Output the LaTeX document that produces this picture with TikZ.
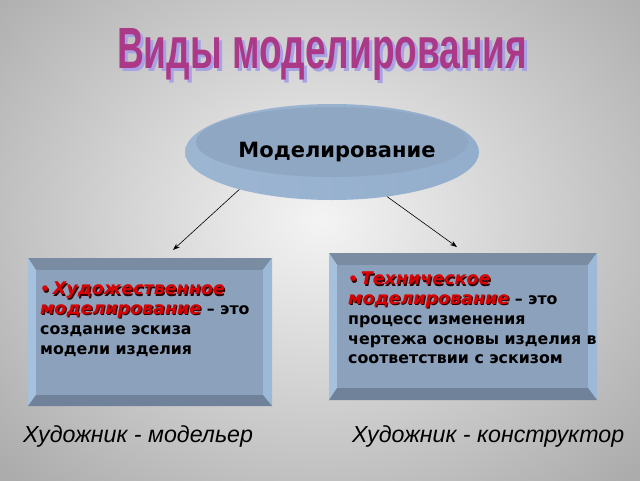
\documentclass[tikz,border=0pt]{standalone}
\usepackage{fontspec}
\setmainfont{DejaVu Sans}
\newfontfamily\arialf{Liberation Sans}
\usetikzlibrary{arrows.meta,shapes.geometric}
\definecolor{bgin}{HTML}{F4F4F4}
\definecolor{bgout}{HTML}{ACACAC}
\definecolor{titlec}{RGB}{172,56,136}
\definecolor{tshadow}{RGB}{168,162,228}
\definecolor{sideL}{HTML}{9CB6D2}
\definecolor{sideM}{HTML}{7F99B8}
\definecolor{sideR}{HTML}{93AECC}
\definecolor{diskface}{HTML}{8FA7C2}
\definecolor{bevtop}{HTML}{7A8CA2}
\definecolor{bevleft}{HTML}{A6C1DD}
\definecolor{bevright}{HTML}{9DB9D8}
\definecolor{bevbot}{HTML}{6F8299}
\definecolor{boxface}{HTML}{8CA1BB}
\definecolor{redtx}{HTML}{D80000}
\definecolor{redsh}{HTML}{300000}
\newcommand{\redw}[1]{\makebox[0pt][l]{\hspace{1.2pt}\raisebox{-1.2pt}{\color{redsh}#1}}{\color{redtx}#1}}
\newcommand{\redi}[1]{{\fontsize{17.5}{19.7}\selectfont\itshape\redw{#1}}}
\newcommand{\titletext}{\resizebox{410pt}{40pt}{\arialf\bfseries Виды моделирования}}
\newcommand{\bevelbox}[8]{%
 \fill[bevtop] (#1,#2) -- (#3,#2) -- (#7,#6) -- (#5,#6) -- cycle;
 \fill[bevleft] (#1,#2) -- (#5,#6) -- (#5,#8) -- (#1,#4) -- cycle;
 \fill[bevright] (#3,#2) -- (#3,#4) -- (#7,#8) -- (#7,#6) -- cycle;
 \fill[bevbot] (#1,#4) -- (#3,#4) -- (#7,#8) -- (#5,#8) -- cycle;
 \fill[boxface] (#5,#6) rectangle (#7,#8);}
\begin{document}
\begin{tikzpicture}[x=1pt,y=-1pt,
  arr/.style={draw=black, line width=0.6pt, -{Stealth[length=7pt,width=5pt]}},
  boxtxt/.style={anchor=north west, inner sep=0pt, align=left, font=\bfseries\fontsize{15.8}{19.7}\selectfont},
  sig/.style={font=\arialf\itshape\fontsize{23.2}{24}\selectfont, inner sep=0pt, anchor=base west}
]
\useasboundingbox (0,0) rectangle (640,480);
\begin{scope}
\clip (0,0) rectangle (640,480);
\shade[inner color=bgin, outer color=bgout] (-120,-140) rectangle (760,580);
\end{scope}
% title
\node[anchor=base west, inner sep=0pt, text=tshadow] (titlesh) at (120,71) {\titletext};
\node[anchor=base west, inner sep=0pt, text=titlec] (title) at (117,68) {\titletext};
% disk
\node[ellipse, left color=sideL, middle color=sideM, right color=sideR, minimum width=294pt, minimum height=96pt, inner sep=0pt] (disk) at (332,152) {};
\fill[diskface] (332,142) ellipse [x radius=136, y radius=35];
\node[font=\bfseries\fontsize{21}{21}\selectfont] (root) at (337,152) {Моделирование};
% arrows
\coordinate (lt) at (173,250);
\coordinate (rt) at (457,247);
\draw[arr] (disk.202) -- (lt);
\draw[arr] (disk.-39) -- (rt);
% boxes
\bevelbox{28}{258}{272}{406}{36}{270}{263}{395}
\bevelbox{329}{253}{597}{400}{337}{265}{588}{388}
\node[boxtxt] (ltext) at (40,282) {\redw{•}\,\redi{Художественное}\\ \redi{моделирование} – это\\ создание эскиза\\ модели изделия};
\node[boxtxt] (rtext) at (348,272) {\redw{•}\,\redi{Техническое}\\ \redi{моделирование} – это\\ процесс изменения\\ чертежа основы изделия в\\ соответствии с эскизом};
% captions
\node[sig] (lsig) at (23,442) {Художник - модельер};
\node[sig] (rsig) at (352,442) {Художник - конструктор};
\end{tikzpicture}
\end{document}
